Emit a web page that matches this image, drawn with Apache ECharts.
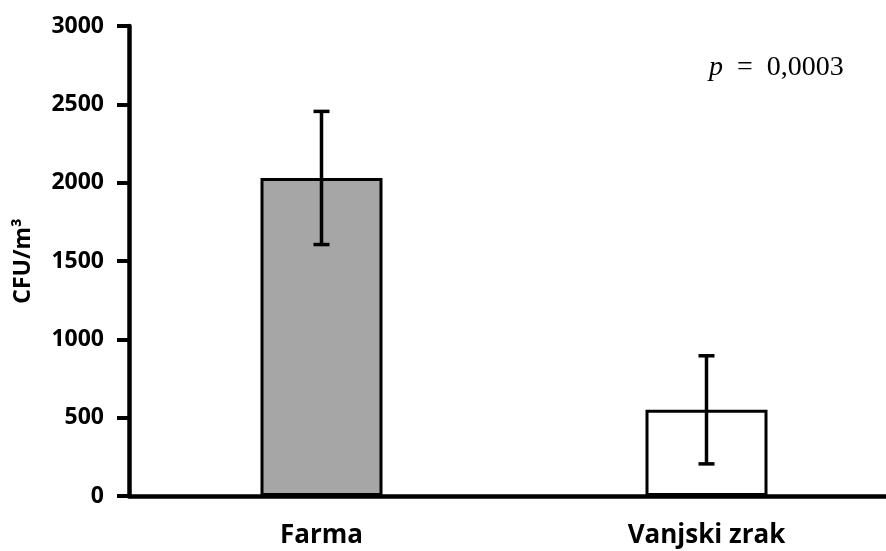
<!DOCTYPE html>
<html>
<head>
<meta charset="utf-8">
<script src="https://cdn.jsdelivr.net/npm/echarts@6/dist/echarts.min.js"></script>
<style>
html,body{margin:0;padding:0;background:#fff;}
#chart{width:886px;height:551px;}
</style>
</head>
<body>
<div id="chart"></div>
<script>
const categories = ['Farma', 'Vanjski zrak'];
const means = [2030, 550];
const errors = [425, 345];
const barColors = ['#a6a6a6', '#ffffff'];
const yTicks = [0, 500, 1000, 1500, 2000, 2500, 3000];
const pLabel = '0,0003';

const chart = echarts.init(document.getElementById('chart'), null, {renderer: 'canvas'});
const font = '"Open Sans", sans-serif';

chart.setOption({
  animation: false,
  backgroundColor: '#ffffff',
  grid: {left: 129, right: -13, top: 26, bottom: 55, containLabel: false, outerBoundsMode: 'none'},
  xAxis: {
    type: 'category',
    data: categories,
    axisLine: {lineStyle: {color: '#000', width: 4.5}},
    axisTick: {show: false},
    axisLabel: {color: '#000', fontFamily: font, fontWeight: 'bold', fontSize: 26, margin: 27}
  },
  yAxis: {
    type: 'value',
    min: yTicks[0],
    max: yTicks[yTicks.length - 1],
    interval: 500,
    name: 'CFU/m³',
    nameLocation: 'middle',
    nameGap: 94,
    nameTextStyle: {color: '#000', fontFamily: font, fontWeight: 'bold', fontSize: 23},
    axisLine: {show: true, lineStyle: {color: '#000', width: 4.5}},
    axisTick: {show: true, length: 12, lineStyle: {color: '#000', width: 4}},
    splitLine: {show: false},
    axisLabel: {color: '#000', fontFamily: font, fontWeight: 'bold', fontSize: 23, margin: 25,
      formatter: function (v) { return String(v); }}
  },
  series: [
    {
      type: 'bar',
      barWidth: 122,
      data: means.map((v, i) => ({value: v, itemStyle: {color: barColors[i]}})),
      itemStyle: {borderColor: '#000', borderWidth: 3},
      z: 2
    },
    {
      type: 'custom',
      z: 3,
      data: means.map((v, i) => [i, v - errors[i], v + errors[i]]),
      renderItem: function (params, api) {
        const x = api.value(0);
        const lo = api.coord([x, api.value(1)]);
        const hi = api.coord([x, api.value(2)]);
        const hw = 8;
        const style = {stroke: '#000', lineWidth: 3.5};
        return {
          type: 'group',
          children: [
            {type: 'line', shape: {x1: hi[0], y1: hi[1], x2: lo[0], y2: lo[1]}, style: style},
            {type: 'line', shape: {x1: hi[0] - hw, y1: hi[1], x2: hi[0] + hw, y2: hi[1]}, style: style},
            {type: 'line', shape: {x1: lo[0] - hw, y1: lo[1], x2: lo[0] + hw, y2: lo[1]}, style: style}
          ]
        };
      }
    }
  ],
  graphic: [
    {
      type: 'text',
      left: 709,
      top: 54,
      style: {
        text: '{i|p}\u00a0 =\u00a0 ' + pLabel,
        fill: '#000',
        fontFamily: '"Liberation Serif", serif',
        fontSize: 28,
        rich: {
          i: {fontStyle: 'italic', fontFamily: '"Liberation Serif", serif', fontSize: 28, fill: '#000'}
        }
      }
    }
  ]
});
</script>
</body>
</html>
